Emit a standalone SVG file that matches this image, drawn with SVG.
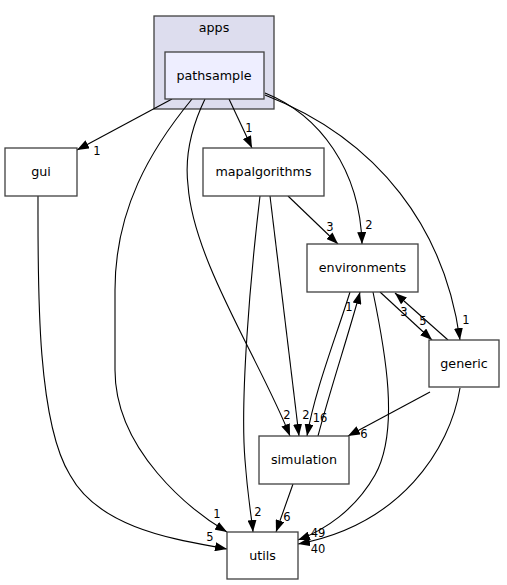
<svg xmlns="http://www.w3.org/2000/svg" width="507" height="585" viewBox="0 0 507 585">
<defs>
<marker id="ah" viewBox="0 0 12 9" refX="12" refY="4.5" markerWidth="12" markerHeight="9" markerUnits="userSpaceOnUse" orient="auto">
<path d="M0,0 L12,4.5 L0,9 z" fill="#000"/>
</marker>
<style>
.node rect{fill:#fff;stroke:#404040;stroke-width:1.3}
.node text,.cl text{font-family:"DejaVu Sans",sans-serif;font-size:12.7px;text-anchor:middle;fill:#000}
.edges path{fill:none;stroke:#000;stroke-width:1.1;marker-end:url(#ah)}
.edges text{font-family:"DejaVu Sans",sans-serif;font-size:11.5px;text-anchor:middle;fill:#000}
</style>
</defs>
<rect width="507" height="585" fill="#fff"/>
<g id="cluster_apps" class="cl">
<rect x="154" y="16" width="120" height="93" fill="#ddddee" stroke="#404040" stroke-width="1.3"/>
<text x="214" y="32">apps</text>
</g>
<g id="edges" class="edges">
<path d="M172,99 L77,150"/><text x="97" y="155">1</text>
<path d="M229,99 L252,148"/><text x="249" y="132">1</text>
<path d="M265,93 C320,115 360,170 362,244"/><text x="369" y="229">2</text>
<path d="M265,95 C380,140 445,230 460,340"/><text x="466" y="324">1</text>
<path d="M205,99 C190,130 185,160 188,185 C193,260 260,360 290,436"/><text x="287" y="419">2</text>
<path d="M192,99 C150,150 115,210 115,290 L115,370 C115,450 190,510 227,532"/><text x="217" y="518">1</text>
<path d="M38,196 C38,280 36,420 70,475 C100,530 180,540 227,549"/><text x="210" y="541">5</text>
<path d="M288,196 L338,244"/><text x="330" y="231">3</text>
<path d="M270,196 L299,436"/><text x="306" y="419">2</text>
<path d="M260,196 C250,280 240,400 245,460 C248,500 252,520 253,532"/><text x="258" y="516">2</text>
<path d="M350,292 C335,340 315,390 307,436"/><text x="320" y="422">16</text>
<path d="M318,436 C330,390 350,330 360,292"/><text x="349" y="311">1</text>
<path d="M373,292 C385,350 400,430 375,475 C355,510 325,530 298,540"/><text x="318" y="537">49</text>
<path d="M380,292 L432,340"/><text x="404" y="316">3</text>
<path d="M448,340 L395,293"/><text x="423" y="325">5</text>
<path d="M430,392 L348,436"/><text x="364" y="438">6</text>
<path d="M460,388 C450,450 400,525 298,544"/><text x="318" y="553">40</text>
<path d="M293,484 L276,532"/><text x="287" y="521">6</text>
</g>
<g id="node_pathsample" class="node">
<rect x="165" y="52" width="99" height="47" style="fill:#eeeeff"/>
<text x="214" y="80">pathsample</text>
</g>
<g id="node_gui" class="node">
<rect x="5" y="148" width="72" height="48"/>
<text x="41" y="176">gui</text>
</g>
<g id="node_mapalgorithms" class="node">
<rect x="203" y="148" width="121" height="48"/>
<text x="263.5" y="176">mapalgorithms</text>
</g>
<g id="node_environments" class="node">
<rect x="307" y="244" width="111" height="48"/>
<text x="362.5" y="272">environments</text>
</g>
<g id="node_generic" class="node">
<rect x="429" y="340" width="70" height="47"/>
<text x="464" y="368">generic</text>
</g>
<g id="node_simulation" class="node">
<rect x="259" y="436" width="90" height="48"/>
<text x="304" y="464">simulation</text>
</g>
<g id="node_utils" class="node">
<rect x="227" y="532" width="71" height="47"/>
<text x="262.5" y="560">utils</text>
</g>
</svg>
